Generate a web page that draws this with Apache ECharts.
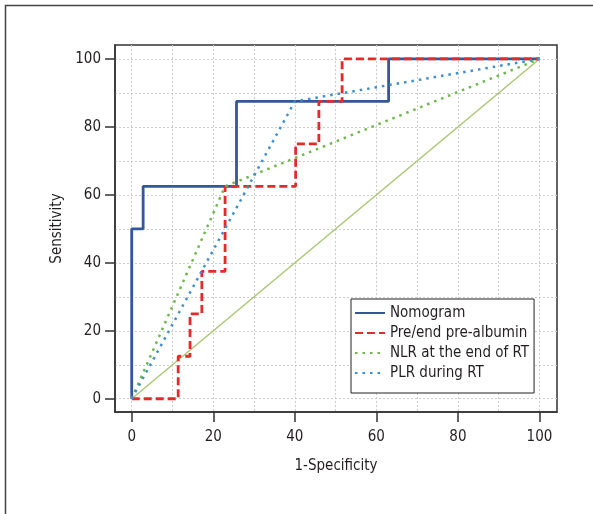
<!DOCTYPE html>
<html>
<head>
<meta charset="utf-8">
<script src="https://cdn.jsdelivr.net/npm/echarts@6/dist/echarts.min.js"></script>
<style>
  html, body { margin: 0; padding: 0; background: #fff; }
  #chart { width: 593px; height: 514px; }
</style>
</head>
<body>
<div id="chart"></div>
<script>
// ROC curves, [1-specificity, sensitivity] in %
const nomogram = [[0, 0], [0, 50], [2.8, 50], [2.8, 62.5], [25.7, 62.5], [25.7, 87.5], [63, 87.5], [63, 100], [100, 100]];
const preAlbumin = [[0, 0], [11.4, 0], [11.4, 12.5], [14.3, 12.5], [14.3, 25], [17.2, 25], [17.2, 37.5], [22.9, 37.5], [22.9, 62.5],
  [40.2, 62.5], [40.2, 75], [45.9, 75], [45.9, 87.5], [51.6, 87.5], [51.6, 100], [100, 100]];
const nlrEnd = [[0, 0], [22.9, 62.5], [100, 100]];
const plrDuring = [[0, 0], [40, 87.5], [100, 100]];
const diagonal = [[0, 0], [100, 100]];

const tickValues = [0, 20, 40, 60, 80, 100];
const gridValues = [0, 10, 20, 30, 40, 50, 60, 70, 80, 90, 100];

const font = "'Liberation Sans Narrow', 'DejaVu Sans Condensed', sans-serif";
const ink = '#231f20';

const chart = echarts.init(document.getElementById('chart'));

const mainAxis = (name, extra) => Object.assign({
  type: 'value',
  name: name,
  nameLocation: 'middle',
  nameTextStyle: { color: ink, fontSize: 15, fontFamily: font },
  axisLine: { show: true, onZero: false, lineStyle: { color: '#333', width: 1.5 } },
  axisTick: { show: true, inside: false, length: 10, customValues: tickValues, lineStyle: { color: '#333', width: 1.5 } },
  axisLabel: { customValues: tickValues, color: ink, fontSize: 15, fontFamily: font },
  splitLine: { show: false }
}, extra);

const gridAxis = (extra) => Object.assign({
  type: 'value',
  axisLine: { show: false },
  axisTick: { show: false, customValues: gridValues },
  axisLabel: { show: false },
  splitLine: { show: true, lineStyle: { color: '#cccccc', width: 1, type: [2, 2] } }
}, extra);

const option = {
  animation: false,
  backgroundColor: '#fff',
  graphic: [{
    type: 'polyline',
    shape: { points: [[5.5, 514], [5.5, 5.5], [593, 5.5]] },
    style: { stroke: '#444', lineWidth: 1.5, fill: null },
    silent: true
  }],
  grid: {
    left: 115, top: 45, right: 36, bottom: 102,
    show: true, borderColor: '#333', borderWidth: 1.5, backgroundColor: 'transparent'
  },
  xAxis: [
    mainAxis('1-Specificity', { min: -4.1, max: 104.3, nameGap: 47, axisLabel: { customValues: tickValues, color: ink, fontSize: 15, fontFamily: font, margin: 18 } }),
    gridAxis({ min: -4.1, max: 104.3, position: 'bottom' })
  ],
  yAxis: [
    mainAxis('Sensitivity', { min: -3.9, max: 104.1, nameGap: 47, axisLabel: { customValues: tickValues, color: ink, fontSize: 15, fontFamily: font, margin: 14 } }),
    gridAxis({ min: -3.9, max: 104.1, position: 'left' })
  ],
  legend: {
    orient: 'vertical',
    left: 351, top: 299,
    padding: [6, 5, 12, 3],
    backgroundColor: '#fff',
    borderColor: '#222', borderWidth: 1,
    itemWidth: 30, itemHeight: 14, itemGap: 4,
    itemStyle: { color: 'transparent', borderWidth: 0, opacity: 0 },
    textStyle: { color: ink, fontSize: 15, lineHeight: 16, fontFamily: font },
    data: ['Nomogram', 'Pre/end pre-albumin', 'NLR at the end of RT', 'PLR during RT']
  },
  series: [
    {
      name: 'Reference', type: 'line', data: diagonal, symbol: 'none', silent: true,
      lineStyle: { color: '#a3c66f', width: 1.3 }
    },
    {
      name: 'Nomogram', type: 'line', data: nomogram, symbol: 'none',
      itemStyle: { color: '#34579c' },
      lineStyle: { color: '#34579c', width: 2.8 }
    },
    {
      name: 'Pre/end pre-albumin', type: 'line', data: preAlbumin, symbol: 'none',
      itemStyle: { color: '#e52a2a' },
      lineStyle: { color: '#e52a2a', width: 2.8, type: [8, 4] }
    },
    {
      name: 'NLR at the end of RT', type: 'line', data: nlrEnd, symbol: 'none',
      itemStyle: { color: '#6cba4a' },
      lineStyle: { color: '#6cba4a', width: 2.5, type: [2.5, 5] }
    },
    {
      name: 'PLR during RT', type: 'line', data: plrDuring, symbol: 'none',
      itemStyle: { color: '#3f8fd0' },
      lineStyle: { color: '#3f8fd0', width: 2.5, type: [2.5, 5] }
    }
  ]
};

chart.setOption(option);
</script>
</body>
</html>
